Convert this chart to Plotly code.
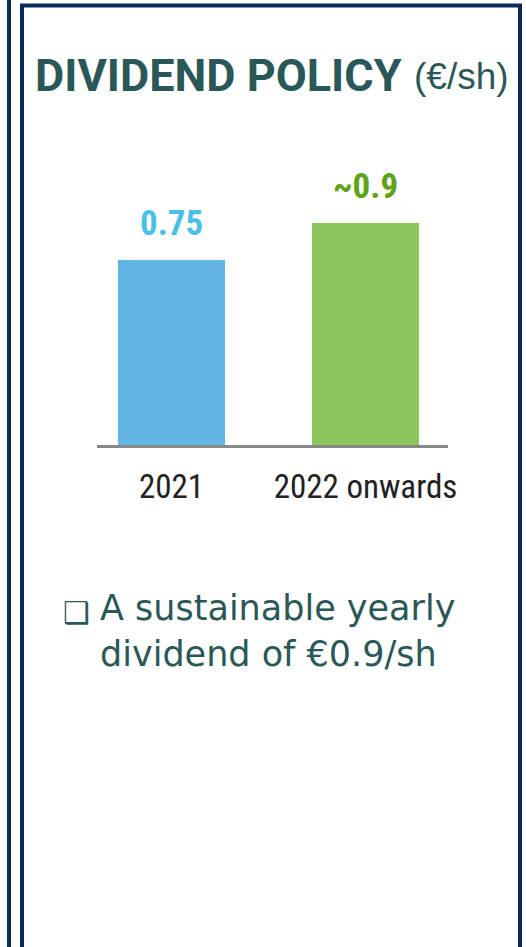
import plotly.graph_objects as go

# ---- data ----
categories = ["2021", "2022 onwards"]
values = [0.75, 0.9]
value_labels = ["0.75", "~0.9"]
label_colors = ["#4BBFE8", "#5EA31B"]
bar_colors = ["#63B6E4", "#8DC65A"]
title_text = "DIVIDEND POLICY"
unit_text = "(€/sh)"
bullet_lines = ["A sustainable yearly", "dividend of €0.9/sh"]

W, H = 526, 947
L, R = 97, 448          # plot area px
BASE = 445              # baseline px
PH = 247                # plot height px (1.0 unit)
T = BASE - PH

def px(x):
    return (x - L) / (R - L)

def py(y):
    return (BASE - y) / PH

NAVY = "#0A2B5C"
TEAL = "#2A5858"
NARROW = "Liberation Sans Narrow, Arial Narrow, Roboto Condensed, Roboto, sans-serif"

fig = go.Figure()
fig.add_trace(go.Bar(
    x=[0, 1], y=values,
    width=0.552,
    marker=dict(color=bar_colors, line=dict(width=0)),
    hoverinfo="skip",
))

for i, (v, lab, c) in enumerate(zip(values, value_labels, label_colors)):
    fig.add_annotation(x=i, y=v, xref="x", yref="y", text=f"<b>{lab}</b>",
                       showarrow=False, yanchor="bottom", yshift=14,
                       font=dict(family=NARROW, size=35, color=c))

# title
fig.add_annotation(x=px(33), y=py(75), xref="paper", yref="paper",
                   text=f"<b>{title_text}</b>", showarrow=False,
                   xanchor="left", yanchor="middle",
                   font=dict(family="Roboto", size=45, color=TEAL))
fig.add_annotation(x=px(511), y=py(77), xref="paper", yref="paper",
                   text=unit_text, showarrow=False,
                   xanchor="right", yanchor="middle",
                   font=dict(family="Liberation Sans", size=37, color=TEAL))

# bullet
fig.add_annotation(x=px(61), y=py(612), xref="paper", yref="paper",
                   text="❑", showarrow=False, xanchor="left", yanchor="middle",
                   font=dict(family="DejaVu Sans", size=30, color=TEAL))
fig.add_annotation(x=px(98), y=py(586), xref="paper", yref="paper",
                   text="<br>".join(bullet_lines), showarrow=False,
                   xanchor="left", yanchor="top", align="left",
                   font=dict(family="DejaVu Sans", size=35, color=TEAL))

# borders
fig.add_shape(type="line", xref="paper", yref="paper",
              x0=px(9), x1=px(9), y0=py(-5), y1=py(H + 5),
              line=dict(color=NAVY, width=4))
fig.add_shape(type="rect", xref="paper", yref="paper",
              x0=px(22), x1=px(520), y0=py(5.5), y1=py(H + 20),
              line=dict(color=NAVY, width=4), fillcolor="rgba(0,0,0,0)")

fig.update_layout(
    width=W, height=H,
    margin=dict(l=L, r=W - R, t=T, b=H - BASE, pad=0),
    paper_bgcolor="white", plot_bgcolor="white",
    showlegend=False,
    bargap=0,
)
fig.update_xaxes(
    range=[(L - 171.5) / 194, (R - 171.5) / 194],
    tickmode="array", tickvals=[0, 1], ticktext=categories,
    showgrid=False, zeroline=False,
    showline=True, linecolor="#888888", linewidth=3,
    ticks="", ticklabelstandoff=10,
    tickfont=dict(family=NARROW, size=33, color="#222222"),
    fixedrange=True,
)
fig.update_yaxes(range=[0, 1.0], visible=False, fixedrange=True)

fig.write_html(
    "out.html",
    config={"displayModeBar": False},
    post_script="document.body.style.margin='0';document.body.style.overflow='hidden';",
)
